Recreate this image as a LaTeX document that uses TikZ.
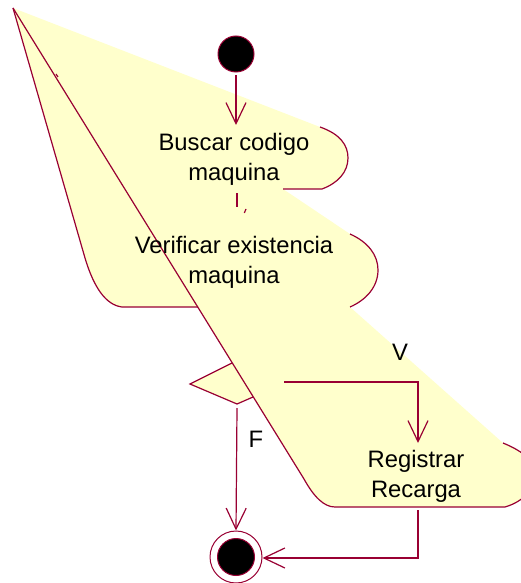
\documentclass[tikz,border=0pt]{standalone}
\usepackage{fontspec}
\setmainfont{Liberation Sans}
\usepackage{xcolor}
\usetikzlibrary{arrows.meta}
\definecolor{statefill}{RGB}{255,255,204}
\definecolor{stateline}{RGB}{153,0,51}
\tikzset{
  edge/.style={draw=stateline, line width=1.2bp},
  flow/.style={edge, -{Straight Barb[length=21bp, width=20bp]}},
  acttext/.style={inner sep=0pt, align=center,
                  font=\fontsize{23.8bp}{30bp}\selectfont},
  guardtext/.style={inner sep=0pt, font=\fontsize{23.8bp}{30bp}\selectfont},
  startdot/.style={circle, fill=black, draw=stateline, line width=1bp,
                   minimum size=36bp, inner sep=0pt},
  enddot/.style={circle, fill=white, draw=stateline, line width=1bp,
                 minimum size=52bp, inner sep=0pt},
}

\begin{document}
\begin{tikzpicture}[x=1bp, y=-1bp]

\clip (0,0) rectangle (521,583);
\useasboundingbox (0,0) rectangle (521,583);

%% ── the smeared state fill ────────────────────────────────────────
\coordinate (apex) at (13,8);
\fill[statefill] (apex) -- (320,127)
  .. controls (340,134) and (348,145) .. (348,158)
  .. controls (348,172) and (338,183) .. (322,189) -- (283,189) -- (350,234)
  .. controls (368,242) and (378,255) .. (378,270)
  .. controls (378,287) and (366,300) .. (350,307) -- (503,443)
  .. controls (525,452) and (535,462) .. (535,475)
  .. controls (535,490) and (522,502) .. (505,507) -- (335,507)
  .. controls (324,507) and (314,497) .. (304,479) -- (253,397) -- (237,404)
  -- (190,384) -- (232,363) -- (198,307) -- (122,307)
  .. controls (106,305) and (94,288) .. (85,258) -- cycle;

%% ── outline pieces that show ──────────────────────────────────────
\draw[edge] (apex) -- (85,258) .. controls (94,288) and (106,305) .. (122,307) -- (198,307);
\draw[edge] (apex) -- (304,479) .. controls (314,497) and (324,507) .. (335,507)
  -- (505,507) .. controls (522,502) and (535,490) .. (535,475)
  .. controls (535,462) and (525,452) .. (503,443);
\draw[edge] (320,127) .. controls (340,134) and (348,145) .. (348,158)
  .. controls (348,172) and (338,183) .. (322,189) -- (283,189);
\draw[edge] (350,234) .. controls (368,242) and (378,255) .. (378,270)
  .. controls (378,287) and (366,300) .. (350,307);
\draw[edge] (232,363) -- (190,384) -- (237,404) -- (253,397);
\draw[edge] (56,74) -- (58,77);

%% ── activity texts ───────────────────────────────────────────────
\node[acttext] (buscar) at (234,159) {Buscar codigo\\maquina};
\node[acttext] (verificar) at (234,262) {Verificar existencia\\maquina};
\node[acttext] (registrar) at (416,476) {Registrar\\Recarga};

%% ── start, decision ends and final ───────────────────────────────
\node[startdot] (start) at (236,54) {};
\node[enddot] (final) at (236,557) {};
\node[circle, fill=black, draw=stateline, line width=1bp, minimum size=37bp,
      inner sep=0pt] (finaldot) at (final) {};
\coordinate (buscarin) at (236,125);
\coordinate (stubtop) at (237,193);
\coordinate (stubend) at (237,207);
\coordinate (decright) at (284,382);
\coordinate (decbottom) at (237,408);
\coordinate (vcorner) at (418,382);
\coordinate (registrarin) at (418,443);
\coordinate (registrarout) at (418,510);
\coordinate (rcorner) at (418,558);

%% ── transitions ──────────────────────────────────────────────────
\draw[flow] (start.south) ++(0,3) -- (buscarin);
\draw[edge] (stubtop) -- (stubend);
\draw[edge] (246,209) -- (244.3,213);
\draw[flow] (decright) -- (vcorner) -- (registrarin);
\draw[flow] (decbottom) -- (final.north);
\draw[flow] (registrarout) -- (rcorner) -- (final.east |- rcorner);

\node[guardtext, anchor=base] (vguard) at (400,360) {V};
\node[guardtext, anchor=base] (fguard) at (256,447) {F};

\end{tikzpicture}
\end{document}
